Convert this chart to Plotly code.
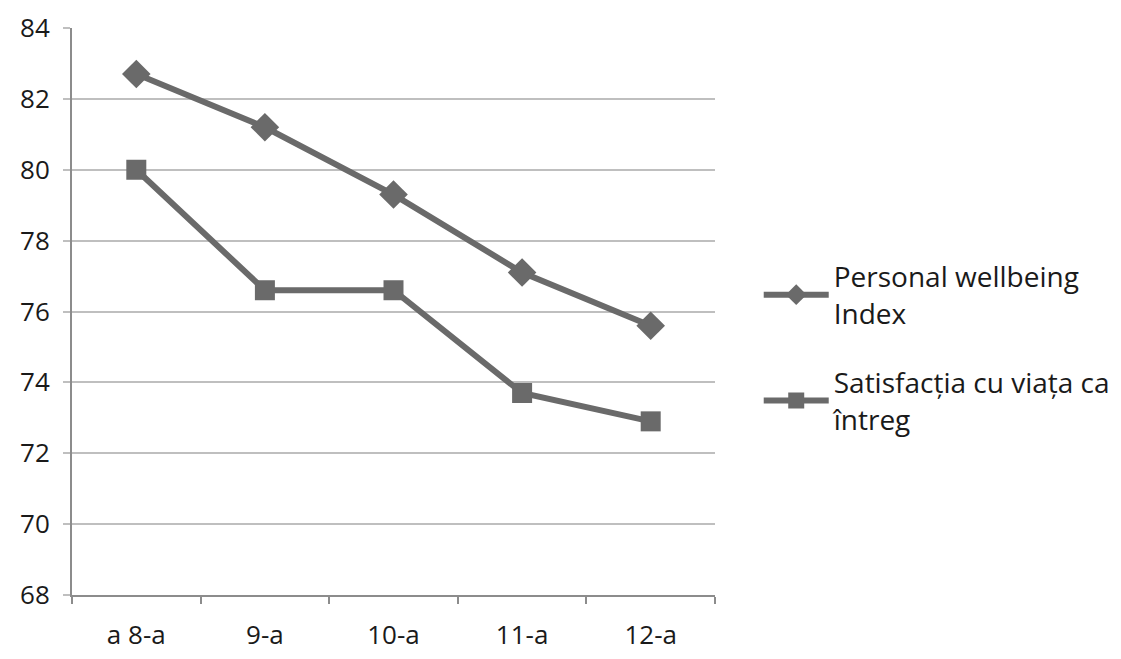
import plotly.graph_objects as go

categories = ["a 8-a", "9-a", "10-a", "11-a", "12-a"]
pwi_values = [82.7, 81.2, 79.3, 77.1, 75.6]
sat_values = [80.0, 76.6, 76.6, 73.7, 72.9]
series_names = ["Personal wellbeing<br>Index", "Satisfacția cu viața ca<br>întreg"]
y_ticks = [68, 70, 72, 74, 76, 78, 80, 82, 84]

line_color = "#6a6a6a"
font_family = "Open Sans"

fig = go.Figure()
fig.add_trace(go.Scatter(
    x=categories, y=pwi_values, name=series_names[0], mode="lines+markers",
    legendgroup="g1",
    line=dict(color=line_color, width=6),
    marker=dict(symbol="diamond", size=22, color=line_color),
))
fig.add_trace(go.Scatter(
    x=categories, y=sat_values, name=series_names[1], mode="lines+markers",
    legendgroup="g2",
    line=dict(color=line_color, width=6),
    marker=dict(symbol="square", size=20, color=line_color),
))

fig.update_layout(
    width=1121, height=659, autosize=False,
    margin=dict(l=64, r=408, t=20, b=72),
    paper_bgcolor="white", plot_bgcolor="white",
    font=dict(family=font_family, size=26, color="#1a1a1a"),
    showlegend=True,
    legend=dict(x=1.068, y=0.436, xanchor="left", yanchor="middle",
                font=dict(size=28, color="#1a1a1a"), tracegroupgap=30,
                itemwidth=65, bgcolor="rgba(0,0,0,0)"),
    xaxis=dict(type="category", range=[-0.5, 4.5], tickson="boundaries",
               ticks="outside", ticklen=7, tickcolor="#8c8c8c", tickwidth=2,
               showline=True, linecolor="#8c8c8c", linewidth=2, automargin=False,
               showgrid=False, tickfont=dict(size=26), ticklabelstandoff=16),
    yaxis=dict(range=[68, 84], tickvals=y_ticks, ticks="outside", ticklen=7,
               tickcolor="#bfbfbf", tickwidth=2, automargin=False,
               showline=True, linecolor="#8c8c8c", linewidth=2,
               showgrid=True, gridcolor="#bfbfbf", gridwidth=2,
               zeroline=False, tickfont=dict(size=26), ticklabelstandoff=8),
)

fig.write_html("out.html")
